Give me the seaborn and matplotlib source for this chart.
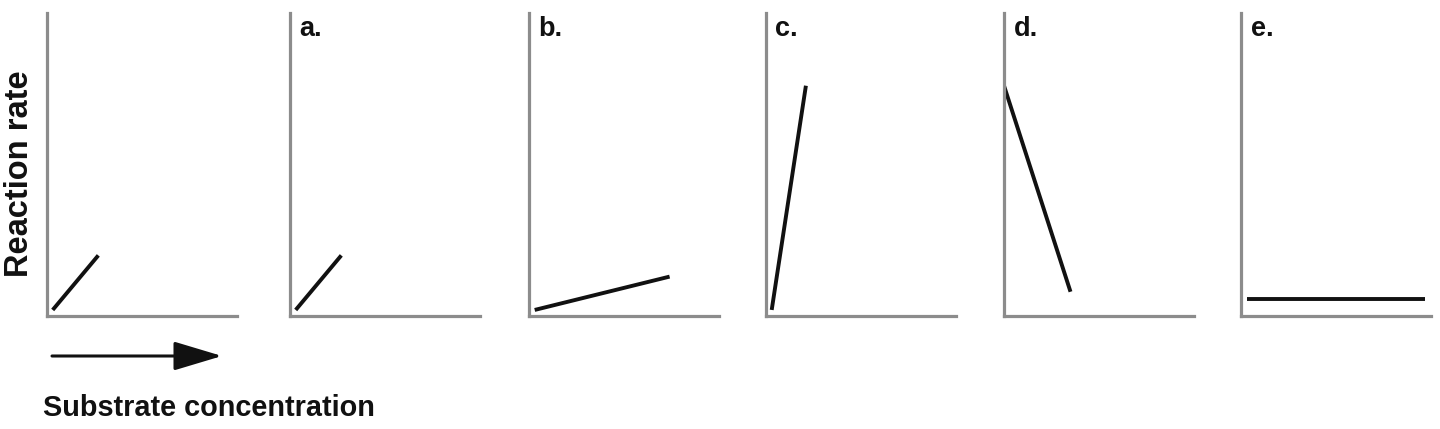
import matplotlib
matplotlib.use("Agg")
import matplotlib.pyplot as plt
import seaborn as sns
import pandas as pd

# ---- data (axis-fraction units within each panel) ----
panel_labels = ["", "a.", "b.", "c.", "d.", "e."]
x_start = [0.03, 0.03, 0.03, 0.03, 0.00, 0.03]
x_end   = [0.27, 0.27, 0.74, 0.21, 0.35, 0.97]
y_start = [0.02, 0.02, 0.02, 0.02, 0.76, 0.056]
y_end   = [0.20, 0.20, 0.13, 0.76, 0.08, 0.056]
y_axis_label = "Reaction rate"
x_axis_label = "Substrate concentration"

rows = []
for i, lab in enumerate(panel_labels):
    rows.append({"panel": i, "x": x_start[i], "y": y_start[i]})
    rows.append({"panel": i, "x": x_end[i], "y": y_end[i]})
df = pd.DataFrame(rows)

sns.set_theme(style="white")
plt.rcParams["font.family"] = ["Liberation Sans", "DejaVu Sans"]

W, H = 1440, 429
fig = plt.figure(figsize=(W / 100, H / 100), dpi=100)

axis_left_px = [47, 290, 529, 766, 1004, 1241]
ax_w_px, ax_bottom_px, ax_top_px = 190, 316, 13
gray = "#8c8c8c"

for i, lab in enumerate(panel_labels):
    l = axis_left_px[i] / W
    b = (H - ax_bottom_px) / H
    h = (ax_bottom_px - ax_top_px) / H
    ax = fig.add_axes([l, b, ax_w_px / W, h])
    sub = df[df["panel"] == i]
    sns.lineplot(data=sub, x="x", y="y", ax=ax, color="#111111", lw=2.8,
                 solid_capstyle="butt", sort=False, legend=False)
    ax.set_xlim(0, 1)
    ax.set_ylim(0, 1)
    ax.set_xticks([])
    ax.set_yticks([])
    ax.set_xlabel("")
    ax.set_ylabel("")
    ax.patch.set_alpha(0)
    for s in ["top", "right"]:
        ax.spines[s].set_visible(False)
    for s in ["left", "bottom"]:
        ax.spines[s].set_color(gray)
        ax.spines[s].set_linewidth(2.3)
    if lab:
        ax.text(0.05, 0.99, lab, transform=ax.transAxes, ha="left", va="top",
                fontsize=19.5, fontweight="bold", color="#111111")

fig.text(20 / W, 1 - 174 / H, y_axis_label, rotation=90, ha="center", va="center",
         fontsize=23.5, fontweight="bold", color="#111111")
fig.text(43 / W, 1 - 408 / H, x_axis_label, ha="left", va="center",
         fontsize=20.8, fontweight="bold", color="#111111")

ax0 = fig.axes[0]
ax0.annotate("", xy=(222, H - 356), xytext=(52, H - 356),
             xycoords="figure pixels", textcoords="figure pixels",
             arrowprops=dict(arrowstyle="-|>,head_length=1.0,head_width=0.3",
                             mutation_scale=30, lw=2.2, color="#111111",
                             shrinkA=0, shrinkB=0),
             annotation_clip=False)

fig.savefig("out.png", dpi=100, facecolor="white")
